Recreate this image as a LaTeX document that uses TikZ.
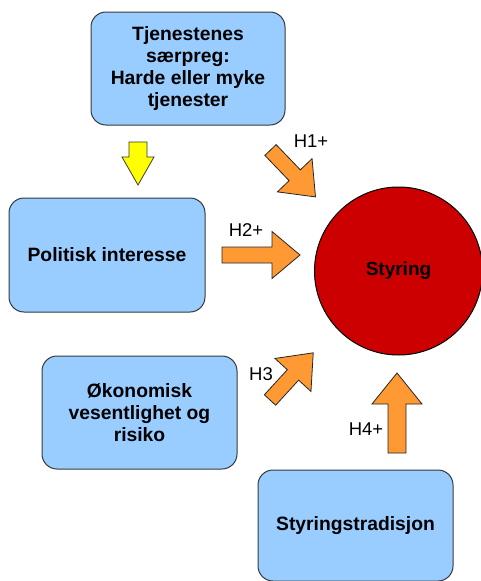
\documentclass[tikz,border=0pt]{standalone}
\usepackage{fontspec}
\setmainfont{Liberation Sans}
\begin{document}
\begin{tikzpicture}[x=1pt,y=-1pt,
  box/.style={draw=boxline,fill=boxfill,line width=1pt,rounded corners=15pt,inner sep=0pt,align=center,
    font=\fontsize{19.3}{22.3}\selectfont\bfseries},
  lbl/.style={font=\fontsize{18.5}{20}\selectfont,inner sep=0pt},
  orarrow/.style={draw=black!85,fill=arrorange,line width=0.8pt,line join=miter},
  yelarrow/.style={draw=black!80,fill=arryellow,line width=0.8pt,line join=miter}]
\definecolor{boxfill}{HTML}{99CCFF}
\definecolor{boxline}{HTML}{36393D}
\definecolor{circfill}{HTML}{CC0000}
\definecolor{arrorange}{HTML}{FF9933}
\definecolor{arryellow}{HTML}{FFFF00}
\useasboundingbox (0,0) rectangle (480,581);

% boxes
\node[box,minimum width=194pt,minimum height=113pt] (tjen) at (188,68.5)
  {Tjenestenes\\særpreg:\\ Harde eller myke\\tjenester};
\node[box,minimum width=196pt,minimum height=114pt] (pol) at (107,255) {Politisk interesse};
\node[box,minimum width=195pt,minimum height=113pt] (oko) at (139.5,412.5)
  {Økonomisk\\vesentlighet og\\risiko};
\node[box,minimum width=195pt,minimum height=111pt] (trad) at (355.5,525.5) {Styringstradisjon};

% circle
\node[circle,draw=black,fill=circfill,line width=1pt,minimum size=168pt,inner sep=0pt,
  font=\fontsize{19}{22}\selectfont\bfseries] (styr) at (398.5,271) {Styring};

% yellow arrow
\begin{scope}[shift={(138,142)},rotate=-90]
  \draw[yelarrow] (0,-9) -- (15,-9) -- (15,-16) -- (43,0) -- (15,16) -- (15,9) -- (0,9) -- cycle;
\end{scope}

% H1+
\begin{scope}[shift={(270.5,150)},rotate=-46.2]
  \draw[orarrow] (0,-7.8) -- (35,-7.8) -- (35,-24) -- (65,0) -- (35,24) -- (35,7.8) -- (0,7.8) -- cycle;
\end{scope}
% H2+
\begin{scope}[shift={(222,255)}]
  \draw[orarrow] (0,-8) -- (50,-8) -- (50,-23.5) -- (78,0) -- (50,23.5) -- (50,8) -- (0,8) -- cycle;
\end{scope}
% H3
\begin{scope}[shift={(270,400)},rotate=47.5]
  \draw[orarrow] (0,-7.7) -- (34,-7.7) -- (34,-24.4) -- (64,0) -- (34,24.4) -- (34,7.7) -- (0,7.7) -- cycle;
\end{scope}
% H4+
\begin{scope}[shift={(397,453)},rotate=90]
  \draw[orarrow] (0,-9) -- (49,-9) -- (49,-25) -- (80,0) -- (49,25) -- (49,9) -- (0,9) -- cycle;
\end{scope}

% labels
\node[lbl] (h1) at (311,141.5) {H1+};
\node[lbl] (h2) at (246,230.5) {H2+};
\node[lbl] (h3) at (261,374) {H3};
\node[lbl] (h4) at (366,429.5) {H4+};
\end{tikzpicture}
\end{document}
